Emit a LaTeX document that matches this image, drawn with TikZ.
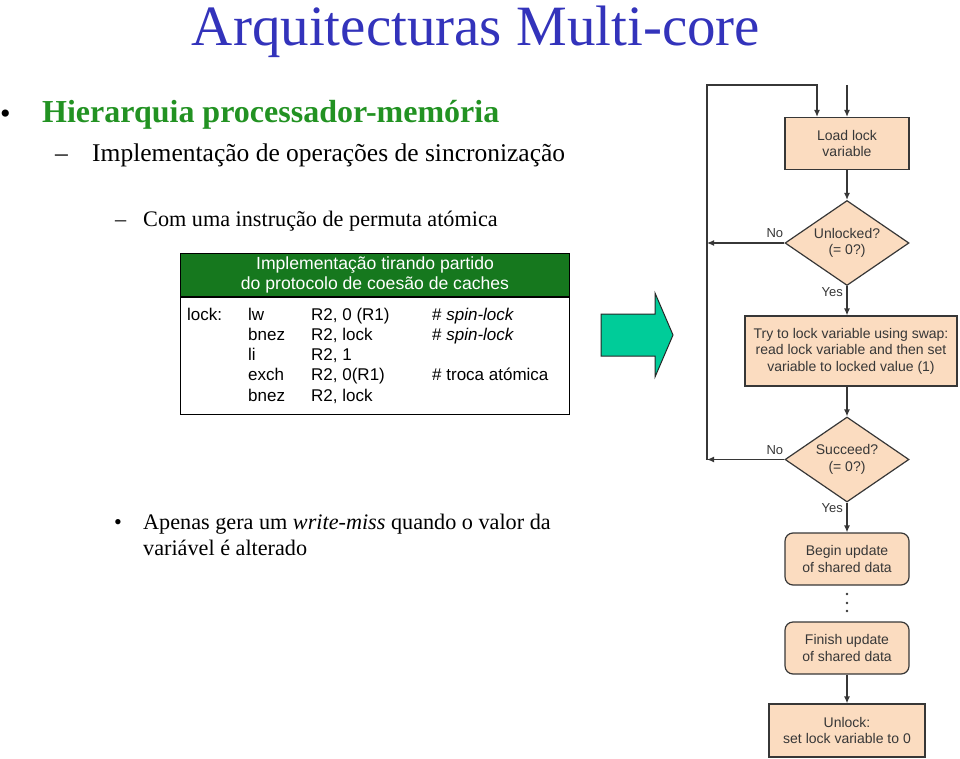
\documentclass[tikz,border=0pt]{standalone}
\usepackage{fontspec}
\setmainfont{Liberation Serif}
\setsansfont{Liberation Sans}
\usetikzlibrary{positioning,shapes.geometric,arrows.meta}

\definecolor{titleblue}{RGB}{51,51,187}
\definecolor{bulletgreen}{RGB}{34,146,34}
\definecolor{tablegreen}{RGB}{22,120,30}
\definecolor{peach}{RGB}{251,220,192}
\definecolor{arrowteal}{RGB}{0,204,153}
\definecolor{flowline}{RGB}{55,55,55}

\tikzset{
	flowbox/.style={draw=flowline, fill=peach, line width=1.2pt, align=center, inner sep=0pt, text=flowline, font=\sffamily\fontsize{14}{16.5}\selectfont},
	decision/.style={diamond, aspect=1.46, draw=flowline, fill=peach, line width=1.2pt, align=center, inner sep=0pt, minimum width=124, minimum height=85, text=flowline, font=\sffamily\fontsize{14}{16.5}\selectfont},
	flow/.style={draw=flowline, line width=1.2pt, -{Latex[length=7pt,width=6pt]}},
	lbl/.style={inner sep=1pt, text=flowline, font=\sffamily\fontsize{13}{15}\selectfont},
	code/.style={anchor=base west, inner sep=0pt, font=\sffamily\fontsize{17}{20}\selectfont},
	slide/.style={anchor=base west, inner sep=0pt}
}

\begin{document}
\begin{tikzpicture}[x=1pt, y=-1pt]
	\useasboundingbox (0,0) rectangle (960,759);
	
	% left side: slide text
	\node[anchor=base, inner sep=0pt, text=titleblue, font=\fontsize{57}{60}\selectfont] (title) at (476,46) {Arquitecturas Multi-core};
	
	\node[slide, font=\fontsize{30}{34}\selectfont] (bullet-1) at (0,124) {•};
	\node[slide, text=bulletgreen, font=\bfseries\fontsize{32}{36}\selectfont] (item-1) at (42,123) {Hierarquia processador-memória};
	\node[slide, font=\fontsize{25.5}{30}\selectfont] (dash-1) at (55,162) {–};
	\node[slide, font=\fontsize{25.5}{30}\selectfont] (item-2) at (92,162) {Implementação de operações de sincronização};
	\node[slide, font=\fontsize{22.2}{26}\selectfont] (dash-2) at (115,227) {–};
	\node[slide, font=\fontsize{22.2}{26}\selectfont] (item-3) at (143,227) {Com uma instrução de permuta atómica};
	
	\node[slide, font=\fontsize{22.2}{26}\selectfont] (bullet-2) at (114,529) {•};
	\node[slide, font=\fontsize{22.2}{26}\selectfont] (item-4a) at (143,529) {Apenas gera um \textit{write-miss} quando o valor da};
	\node[slide, font=\fontsize{22.2}{26}\selectfont] (item-4b) at (143,555) {variável é alterado};
	
	% code table
	\node[draw=black, fill=tablegreen, line width=1pt, anchor=north west, minimum width=389, minimum height=43, inner sep=0pt, align=center, text=white, font=\sffamily\fontsize{17.6}{20}\selectfont] (table-head) at (180,253) {Implementação tirando partido\\do protocolo de coesão de caches};
	\node[draw=black, line width=1pt, anchor=north west, minimum width=389, minimum height=117, inner sep=0pt] (table-body) at (table-head.south west) {};
	
	\node[code] (c-lock) at (187,320) {lock:};
	\node[code] (c-op1) at (248,320) {lw};
	\node[code] (c-op2) at (248,340) {bnez};
	\node[code] (c-op3) at (248,360) {li};
	\node[code] (c-op4) at (248,380.5) {exch};
	\node[code] (c-op5) at (248,401) {bnez};
	\node[code] (c-arg1) at (311,320) {R2, 0 (R1)};
	\node[code] (c-arg2) at (311,340) {R2, lock};
	\node[code] (c-arg3) at (311,360) {R2, 1};
	\node[code] (c-arg4) at (311,380.5) {R2, 0(R1)};
	\node[code] (c-arg5) at (311,401) {R2, lock};
	\node[code] (c-note1) at (432,320) {\# \textit{spin-lock}};
	\node[code] (c-note2) at (432,340) {\# \textit{spin-lock}};
	\node[code] (c-note4) at (432,380.5) {\# troca atómica};
	
	% block arrow
	\draw[draw=black!85, fill=arrowteal, line width=1pt] (601,314) -- (655,314) -- (655,293) -- (673,335) -- (655,377) -- (655,356) -- (601,356) -- cycle;
	
	% flowchart
	\node[flowbox, minimum width=124, minimum height=52] (load) at (847,143.5) {Load lock\\variable};
	\node[decision] (unlocked) at (847,243) {Unlocked?\\(= 0?)};
	\node[flowbox, minimum width=212, minimum height=70] (swap) at (851,351) {Try to lock variable using swap:\\read lock variable and then set\\variable to locked value (1)};
	\node[decision] (succeed) at (847,459.5) {Succeed?\\(= 0?)};
	\node[flowbox, rounded corners=8pt, minimum width=124, minimum height=52] (begin) at (847,559) {Begin update\\of shared data};
	\node[flowbox, rounded corners=8pt, minimum width=124, minimum height=52] (finish) at (847,648) {Finish update\\of shared data};
	\node[flowbox, minimum width=156, minimum height=53] (unlock) at (847,730.5) {Unlock:\\set lock variable to 0};
	
	\coordinate (loop-top) at (707,85);
	\coordinate (entry) at (847,85);
	
	\draw[flow] (entry) -- (load.north);
	\draw[flow] (load) -- (unlocked);
	\draw[flow] (unlocked.south) -- (unlocked.south |- swap.north);
	\draw[flow] (unlocked.south |- swap.south) -- (succeed.north);
	\draw[flow] (succeed.south) -- (begin.north);
	\draw[flow] (finish.south) -- (unlock.north);
	
	\draw[flow] (unlocked.west) -- (unlocked.west -| loop-top);
	\draw[flow] (succeed.west) -- (succeed.west -| loop-top);
	\draw[flow] (succeed.west -| loop-top) -- (loop-top) -| ([xshift=-30pt]load.north);
	
	\node[lbl, above left=4pt and 0pt of unlocked.west] (no-1) {No};
	\node[lbl, below left=0pt and 3pt of unlocked.south] (yes-1) {Yes};
	\node[lbl, above left=4pt and 0pt of succeed.west] (no-2) {No};
	\node[lbl, below left=0pt and 3pt of succeed.south] (yes-2) {Yes};
	
	\foreach \y in {594,603,611}
		\fill[flowline] (847,\y) circle (1.4pt);
\end{tikzpicture}
\end{document}
